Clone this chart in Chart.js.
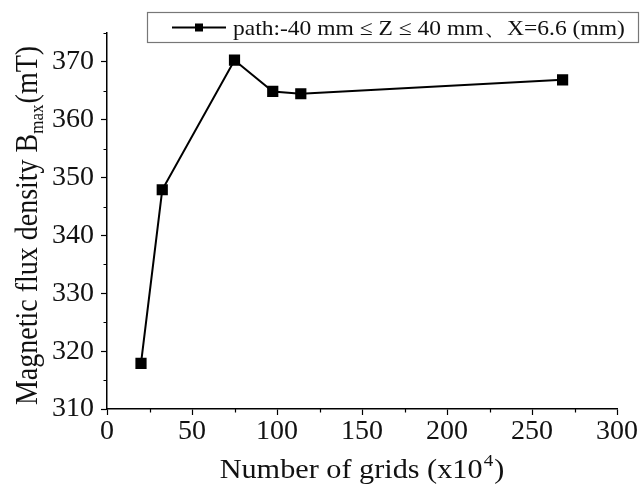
<!DOCTYPE html>
<html>
<head>
<meta charset="utf-8">
<script src="https://cdn.jsdelivr.net/npm/chart.js@4/dist/chart.umd.min.js"></script>
<style>
  html, body { margin: 0; padding: 0; background: #fff; }
  #wrap { width: 643px; height: 488px; }
</style>
</head>
<body>
<div id="wrap"><canvas id="myChart" width="643" height="488"></canvas></div>
<script>
// data
const grids = [20, 32.5, 75, 97.5, 114, 268];        // x10^4
const bmax = [317.9, 347.9, 370.3, 364.9, 364.5, 366.9]; // mT
const xTicks = [0, 50, 100, 150, 200, 250, 300];
const xMinor = [25, 75, 125, 175, 225, 275];
const yTicks = [310, 320, 330, 340, 350, 360, 370];
const yMinor = [315, 325, 335, 345, 355, 365, 375];
const seriesLabel = 'path:-40 mm \u2264 Z \u2264 40 mm\u3001X=6.6 (mm)';

const FONT = '"Liberation Serif", "Times New Roman", serif';
const STRETCH = 1.12; // the source figure is a little wider than tall

// minor ticks, axis titles (with sub/superscripts) and the boxed legend
const extras = {
  id: 'extras',
  afterDraw(chart) {
    const ctx = chart.ctx;
    const xs = chart.scales.x, ys = chart.scales.y;
    const ca = chart.chartArea;
    ctx.save();
    ctx.strokeStyle = '#000';
    ctx.lineWidth = 1.2;
    ctx.beginPath();
    xMinor.forEach(v => {
      const px = Math.round(xs.getPixelForValue(v)) + 0.5;
      ctx.moveTo(px, ca.bottom);
      ctx.lineTo(px, ca.bottom + 3.5);
    });
    yMinor.forEach(v => {
      const py = Math.round(ys.getPixelForValue(v)) + 0.5;
      ctx.moveTo(ca.left, py);
      ctx.lineTo(ca.left - 3.5, py);
    });
    ctx.stroke();

    ctx.fillStyle = '#111';
    ctx.textBaseline = 'alphabetic';
    ctx.textAlign = 'left';

    // x title
    const big = '27px ' + FONT, small = '17px ' + FONT;
    ctx.save();
    ctx.translate((ca.left + ca.right) / 2, 478);
    ctx.scale(STRETCH, 1);
    ctx.font = big;
    const xa = 'Number of grids (x10', xc = ')';
    const wa = ctx.measureText(xa).width, wc = ctx.measureText(xc).width;
    ctx.font = small;
    const wb = ctx.measureText('4').width;
    let x0 = -(wa + wb + wc + 2) / 2;
    ctx.font = big; ctx.fillText(xa, x0, 0);
    ctx.font = small; ctx.fillText('4', x0 + wa + 1, -12);
    ctx.font = big; ctx.fillText(xc, x0 + wa + wb + 2, 0);
    ctx.restore();

    // y title, rotated
    ctx.save();
    ctx.translate(37, 226);
    ctx.rotate(-Math.PI / 2);
    ctx.scale(1, STRETCH);
    ctx.font = '28px ' + FONT;
    const ya = 'Magnetic flux density B', yc = '(mT)';
    const ywa = ctx.measureText(ya).width, ywc = ctx.measureText(yc).width;
    ctx.font = small;
    const ywb = ctx.measureText('max').width;
    let y0 = -(ywa + ywb + ywc) / 2;
    ctx.font = '28px ' + FONT; ctx.fillText(ya, y0, 0);
    ctx.font = small; ctx.fillText('max', y0 + ywa, 5);
    ctx.font = '28px ' + FONT; ctx.fillText(yc, y0 + ywa + ywb + 1, 0);
    ctx.restore();

    // legend box
    ctx.strokeStyle = '#777';
    ctx.lineWidth = 1.2;
    ctx.strokeRect(147.5, 12.5, 491, 30);
    ctx.strokeStyle = '#000';
    ctx.lineWidth = 2;
    ctx.beginPath();
    ctx.moveTo(172, 27.5);
    ctx.lineTo(226, 27.5);
    ctx.stroke();
    ctx.fillStyle = '#000';
    ctx.fillRect(195, 23.5, 8, 8);
    ctx.fillStyle = '#111';
    ctx.save();
    ctx.translate(233, 35);
    ctx.scale(STRETCH, 1);
    ctx.font = '21px ' + FONT;
    ctx.fillText(seriesLabel, 0, 0);
    ctx.restore();
    ctx.restore();
  }
};

new Chart(document.getElementById('myChart'), {
  type: 'line',
  data: {
    datasets: [{
      label: seriesLabel,
      data: grids.map((g, i) => ({ x: g, y: bmax[i] })),
      borderColor: '#000',
      backgroundColor: '#000',
      borderWidth: 2,
      pointStyle: 'rect',
      pointRadius: 6.5,
      pointHoverRadius: 6.5,
      tension: 0
    }]
  },
  options: {
    responsive: false,
    animation: false,
    layout: { padding: { left: 0, top: 33, right: 26, bottom: 0 } },
    plugins: { legend: { display: false }, tooltip: { enabled: false } },
    scales: {
      x: {
        type: 'linear',
        min: 0, max: 300,
        afterBuildTicks: s => { s.ticks = xTicks.map(v => ({ value: v })); },
        afterFit: s => { s.height = 79; },
        border: { color: '#000', width: 1.5 },
        grid: { drawOnChartArea: false, drawTicks: true, tickLength: 6, tickColor: '#000', tickWidth: 1.2 },
        ticks: { color: '#111', font: { family: FONT, size: 28 }, padding: 0, maxRotation: 0 }
      },
      y: {
        type: 'linear',
        min: 310, max: 375,
        afterBuildTicks: s => { s.ticks = yTicks.map(v => ({ value: v })); },
        afterFit: s => { s.width = 107; },
        border: { color: '#000', width: 1.5 },
        grid: { drawOnChartArea: false, drawTicks: true, tickLength: 6, tickColor: '#000', tickWidth: 1.2 },
        ticks: { color: '#111', font: { family: FONT, size: 28 }, padding: 7 }
      }
    }
  },
  plugins: [extras]
});
</script>
</body>
</html>
